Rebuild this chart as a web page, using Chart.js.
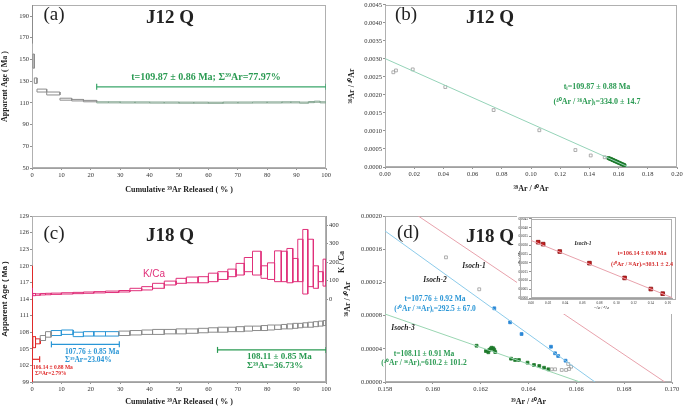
<!DOCTYPE html>
<html>
<head>
<meta charset="utf-8">
<script src="https://cdn.jsdelivr.net/npm/chart.js@4.4.1/dist/chart.umd.min.js"></script>
<style>
html, body { margin: 0; padding: 0; background: #fff; }
#wrap { position: relative; width: 685px; height: 407px; overflow: hidden; }
canvas { position: absolute; }
</style>
</head>
<body>
<div id="wrap">
  <canvas id="ca" width="340" height="200" style="left:0;top:0"></canvas>
  <canvas id="cb" width="345" height="200" style="left:340px;top:0"></canvas>
  <canvas id="cd" width="345" height="207" style="left:340px;top:200px"></canvas>
  <canvas id="cc" width="352" height="207" style="left:0;top:200px"></canvas>
  <canvas id="ci" width="160" height="100" style="left:517px;top:214px"></canvas>
</div>
<script>
// ---- (a) J12 Q age spectrum ----
const edgesA = [0, 0.3, 0.8, 1.7, 5, 9.5, 13.5, 17.5, 22, 26, 30, 35, 40, 45, 50, 55, 60, 65, 70, 75, 80, 85, 88, 91, 94, 96, 98, 100];
const ageLoA = [165, 142, 128, 120, 117.3, 112.5, 111.8, 111, 110.0, 110.0, 109.9, 109.9, 109.8, 109.8, 109.7, 109.7, 109.6, 109.8, 109.8, 109.9, 109.9, 110.0, 110.0, 109.7, 110.2, 110.6, 110.0];
const ageHiA = [240, 155, 133, 122.7, 120, 114.3, 113.2, 112.3, 111.0, 111.0, 110.9, 110.9, 110.8, 110.8, 110.7, 110.7, 110.6, 110.8, 110.8, 110.9, 110.9, 111.0, 111.0, 110.7, 111.2, 111.6, 111.0];
const plateauAX = [22, 100];
const plateauAY = 124.8;
const ageTicksA = [50, 70, 90, 110, 130, 150, 170, 190];
const pctTicks = [0, 10, 20, 30, 40, 50, 60, 70, 80, 90, 100];

// ---- (b) J12 Q inverse isochron ----
const openBX = [0.0057, 0.0075, 0.019, 0.0413, 0.0744, 0.1057, 0.1304, 0.1409, 0.1505];
const openBY = [0.00263, 0.00268, 0.00271, 0.00222, 0.00158, 0.00102, 0.00047, 0.00032, 0.00027];
const fillBX = [0.1530, 0.1536, 0.1541, 0.1547, 0.1552, 0.1557, 0.1562, 0.1567, 0.1572, 0.1577, 0.1582, 0.1587, 0.1592, 0.1597, 0.1602, 0.1608, 0.1613, 0.1619, 0.1625, 0.1631, 0.1636, 0.1641];
const fillBY = [0.000248, 0.000238, 0.000230, 0.000219, 0.000212, 0.000200, 0.000192, 0.000183, 0.000172, 0.000165, 0.000154, 0.000146, 0.000137, 0.000126, 0.000118, 0.000106, 0.000098, 0.000087, 0.000076, 0.000066, 0.000057, 0.000046];
const isoBX = [0, 0.1667];
const isoBY = [0.00301, 0];
const xTicksB = [0, 0.02, 0.04, 0.06, 0.08, 0.10, 0.12, 0.14, 0.16, 0.18, 0.20];
const yTicksB = [0, 0.0005, 0.001, 0.0015, 0.002, 0.0025, 0.003, 0.0035, 0.004, 0.0045];

// ---- (c) J18 Q age spectrum + K/Ca ----
const edgesC = [0, 0.3, 1.2, 2.8, 4.6, 6.5, 10, 14, 17.5, 21, 25, 29.5, 33.3, 37.3, 41, 45, 49, 52.5, 56.5, 60, 63.2, 66.6, 69.4, 72.2, 75, 77.9, 80.1, 82.5, 84.8, 86.7, 88.7, 90.4, 92.1, 93.8, 95.7, 97.4, 99, 100];
const ageLoC = [99, 105.2, 105.9, 106.5, 107.1, 107.4, 107.6, 107.2, 107.3, 107.3, 107.3, 107.4, 107.5, 107.6, 107.6, 107.7, 107.7, 107.8, 107.9, 108.0, 108.0, 108.1, 108.1, 108.2, 108.3, 108.3, 108.4, 108.5, 108.6, 108.6, 108.7, 108.8, 108.9, 108.9, 109.0, 109.1, 109.2];
const ageHiC = [120, 107.2, 106.8, 107.4, 108.1, 108.3, 108.4, 108.0, 108.1, 108.1, 108.1, 108.2, 108.3, 108.4, 108.5, 108.5, 108.6, 108.6, 108.7, 108.8, 108.9, 108.9, 109.0, 109.1, 109.1, 109.2, 109.3, 109.3, 109.4, 109.5, 109.6, 109.6, 109.7, 109.8, 109.9, 110.0, 110.1];
// recalculated plateau steps 20..36
const greenLoC = [107.6, 107.8, 107.8, 107.7, 107.8, 107.8, 107.8, 107.9, 107.9, 107.8, 107.6, 107.6, 107.8, 107.9, 108.0, 107.9, 107.6];
const greenHiC = [108.6, 108.5, 108.5, 108.5, 108.6, 108.6, 108.5, 108.7, 108.7, 108.6, 108.3, 108.3, 108.5, 108.7, 108.8, 108.7, 108.4];
const kcaLoC = [5, 18, 20, 22, 23, 25, 27, 29, 31, 33, 35, 38, 45, 49, 58, 76, 85, 88, 88, 94, 106, 121, 130, 148, 130, 112, 106, 94, 94, 88, 94, 94, 27, 67, 58, 94, 70];
const kcaHiC = [60, 30, 28, 30, 31, 32, 34, 36, 38, 40, 43, 46, 58, 67, 85, 97, 112, 119, 121, 140, 148, 162, 193, 225, 259, 180, 196, 261, 259, 274, 220, 324, 377, 324, 180, 148, 216];
const barRedC = [0, 2.6, 103.1];
const barBlueC = [6.6, 29.7, 105.8];
const barGreenC = [63.1, 100, 104.8];
const ageTicksC = [99, 102, 105, 108, 111, 114, 117, 120, 123, 126, 129];
const kcaTicksC = [0, 100, 200, 300, 400];

// ---- (d) J18 Q inverse isochrons ----
const openDX = [0.16055, 0.16194, 0.16497, 0.16511, 0.16539, 0.16557, 0.16570, 0.16578, 0.16566];
const openDY = [0.0001502, 0.0001117, 0.0000153, 0.0000153, 0.0000145, 0.0000145, 0.0000157, 0.0000184, 0.0000217];
const blueDX = [0.16257, 0.16323, 0.16371, 0.16494, 0.16511, 0.16524, 0.16555];
const blueDY = [0.0000888, 0.0000719, 0.0000578, 0.0000425, 0.0000346, 0.0000313, 0.0000257];
const greenDX = [0.16183, 0.16222, 0.16232, 0.16236, 0.16242, 0.16246, 0.16253, 0.16257, 0.16261, 0.16327, 0.16344, 0.16360, 0.16396, 0.16423, 0.16445, 0.16465, 0.16483];
const greenDY = [0.0000437, 0.0000373, 0.0000358, 0.0000386, 0.0000401, 0.0000413, 0.0000406, 0.0000386, 0.0000361, 0.0000281, 0.0000265, 0.0000265, 0.0000233, 0.0000205, 0.0000193, 0.0000172, 0.0000153];
const iso1X = [0.15939, 0.1697], iso1Y = [0.0002, 0];
const iso2X = [0.158, 0.16678], iso2Y = [0.000182, 0];
const iso3X = [0.158, 0.16615], iso3Y = [0.0000819, 0];
const xTicksD = [0.158, 0.160, 0.162, 0.164, 0.166, 0.168, 0.170];
const yTicksD = [0, 0.00004, 0.00008, 0.00012, 0.00016, 0.0002];

// inset (Isoch-1)
const insetX = [0.0084, 0.0142, 0.0336, 0.0683, 0.1094, 0.1400, 0.1539];
const insetY = [0.00317, 0.00306, 0.00264, 0.00198, 0.00114, 0.00051, 0.000245];
const insetLineX = [0, 0.166], insetLineY = [0.00327, 0];
const xTicksI = [0, 0.02, 0.04, 0.06, 0.08, 0.10, 0.12, 0.14, 0.16];
const yTicksI = [0, 0.0005, 0.001, 0.0015, 0.002, 0.0025, 0.003, 0.0035, 0.004, 0.0045];

const SERIF = "'Liberation Serif', 'Times New Roman', serif";
const SANS = "'Liberation Sans', Arial, sans-serif";
const GREEN = '#2a9a52', BLUE = '#2a96d6', RED = '#e02a2a', PINK = '#e0307a';

Chart.defaults.font.family = SERIF;
Chart.defaults.animation = false;

const range = (a, b) => Array.from({length: b - a + 1}, (_, k) => a + k);
const pts = (xs, ys) => xs.map((x, i) => ({x, y: ys[i]}));

// one closed rectangle per heating step, separated by gaps
function boxes(edges, lo, hi, idx, off = 0) {
    const out = [];
    idx.forEach((i, k) => {
        const x0 = edges[i], x1 = edges[i + 1], l = lo[k + off], h = hi[k + off];
        out.push({x: x0, y: l}, {x: x0, y: h}, {x: x1, y: h}, {x: x1, y: l}, {x: x0, y: l}, {x: x1, y: null});
    });
    return out;
}

function boxSet(data, color, yAxisID = 'y') {
    return {data, yAxisID, borderColor: color, borderWidth: 1, pointRadius: 0, spanGaps: false, tension: 0, fill: false};
}
function lineSet(data, color, w = 1) {
    return {data, borderColor: color, borderWidth: w, pointRadius: 0, tension: 0, fill: false};
}
function barSet(x, color) {
    return {data: [{x: x[0], y: x[2]}, {x: x[1], y: x[2]}], borderColor: color, borderWidth: 1.2,
        pointStyle: 'line', pointRotation: 90, pointRadius: 3, pointBorderColor: color, pointBorderWidth: 1.2};
}
function pointSet(data, fillCol, edge, r = 2) {
    return {data, showLine: false, pointStyle: 'rect', pointRadius: r, pointBackgroundColor: fillCol,
        pointBorderColor: edge, pointBorderWidth: 0.8};
}

function scale(pos, min, max, vals, dec, fit, title, tpad, fsize) {
    const horiz = pos === 'bottom';
    return {
        type: 'linear', position: pos, min, max,
        afterBuildTicks: s => { s.ticks = vals.map(v => ({value: v})); },
        afterFit: s => { if (horiz) s.height = fit; else s.width = fit; },
        grid: {display: true, drawOnChartArea: false, tickLength: 2, color: '#777', lineWidth: 0.8},
        border: {display: true, color: '#a0a0a0', width: 1},
        ticks: {callback: v => v.toFixed(dec), font: {family: SERIF, size: fsize || 6.5}, color: '#333',
            padding: 1, maxRotation: 0, autoSkip: false},
        title: title ? {display: true, text: title.text, font: title.font, color: '#222', padding: tpad} : {display: false}
    };
}

const notesPlugin = {
    id: 'notes',
    beforeDraw(chart, args, o) {
        if (!o.bg) return;
        const c = chart.ctx;
        c.save(); c.fillStyle = o.bg; c.fillRect(0, 0, chart.width, chart.height); c.restore();
    },
    beforeDatasetsDraw(chart, args, o) {
        const c = chart.ctx, a = chart.chartArea;
        c.save();
        c.strokeStyle = '#b0b0b0'; c.lineWidth = 1;
        c.strokeRect(Math.round(a.left) + 0.5, Math.round(a.top) + 0.5, Math.round(a.right - a.left) - 1, Math.round(a.bottom - a.top) - 1);
        if (o.outer) c.strokeRect(o.outer[0] + 0.5, o.outer[1] + 0.5, o.outer[2], o.outer[3]);
        c.restore();
    },
    afterDraw(chart, args, o) {
        const c = chart.ctx;
        (o.items || []).forEach(n => {
            c.save();
            c.font = n.font; c.fillStyle = n.color || '#222';
            c.textAlign = n.align || 'center'; c.textBaseline = 'middle';
            c.translate(n.x, n.y);
            if (n.rot) c.rotate(n.rot);
            c.fillText(n.text, 0, 0);
            c.restore();
        });
    }
};
Chart.register(notesPlugin);

function baseOptions(scales, padding, items, bg, outer) {
    return {
        responsive: false, animation: false, devicePixelRatio: 1,
        layout: {padding},
        scales,
        plugins: {legend: {display: false}, tooltip: {enabled: false}, notes: {items, bg, outer}},
        elements: {line: {borderJoinStyle: 'miter'}}
    };
}

const titleFont = {family: SERIF, size: 8, weight: 'bold'};
const bigLabel = '19px ' + SERIF;
const sampleFont = 'bold 19px ' + SERIF;

// (a)
new Chart(document.getElementById('ca'), {
    type: 'line',
    data: {datasets: [
        boxSet(boxes(edgesA, ageLoA, ageHiA, range(0, 7)), '#8c8c8c'),
        boxSet(boxes(edgesA, ageLoA, ageHiA, range(8, 26), 8), '#88a894'),
        barSet([plateauAX[0], plateauAX[1], plateauAY], '#3aa66a')
    ]},
    options: baseOptions({
        x: scale('bottom', 0, 100, pctTicks, 0, 32, {text: 'Cumulative ³⁹Ar Released ( % )', font: titleFont}, {top: 0, bottom: 5}),
        y: scale('left', 50, 200, ageTicksA, 0, 32, {text: 'Apparent Age ( Ma )', font: titleFont}, {top: 0, bottom: 0})
    }, {left: 0, top: 3, right: 14, bottom: 0}, [
        {text: '(a)', x: 54, y: 15, font: bigLabel},
        {text: 'J12 Q', x: 170, y: 18, font: sampleFont},
        {text: 't=109.87 ± 0.86 Ma; Σ³⁹Ar=77.97%', x: 206, y: 77, font: 'bold 10px ' + SERIF, color: GREEN}
    ])
});

// (b)
new Chart(document.getElementById('cb'), {
    type: 'line',
    data: {datasets: [
        lineSet(pts(isoBX, isoBY), '#95d3b8'),
        pointSet(pts(openBX, openBY), 'rgba(255,255,255,0)', '#999'),
        pointSet(pts(fillBX, fillBY), '#1e7a2c', '#1e7a2c')
    ]},
    options: baseOptions({
        x: scale('bottom', 0, 0.2, xTicksB, 2, 33, {text: '³⁹Ar / ⁴⁰Ar', font: titleFont}, {top: 0, bottom: 6}),
        y: scale('left', 0, 0.0045, yTicksB, 4, 45, {text: '³⁶Ar / ⁴⁰Ar', font: titleFont}, {top: 7, bottom: 0})
    }, {left: 0, top: 3, right: 8, bottom: 0}, [
        {text: '(b)', x: 66, y: 15, font: bigLabel},
        {text: 'J12 Q', x: 150, y: 18, font: sampleFont},
        {text: 'tᵢ=109.87 ± 0.88 Ma', x: 257, y: 87, font: 'bold 8px ' + SERIF, color: GREEN},
        {text: '(⁴⁰Ar / ³⁶Ar)ᵢ=334.0 ± 14.7', x: 257, y: 102, font: 'bold 8px ' + SERIF, color: GREEN}
    ])
});

// (c)
const scC = {
    x: scale('bottom', 0, 100, pctTicks, 0, 25, {text: 'Cumulative ³⁹Ar Released ( % )', font: titleFont}, {top: 0, bottom: 0.5}),
    y: scale('left', 99, 129, ageTicksC, 0, 32, {text: 'Apparent Age ( Ma )', font: {family: SANS, size: 8, weight: 'bold'}}, {top: 0, bottom: 0}),
    y2: scale('right', -450, 450, kcaTicksC, 0, 26, null, null)
};
new Chart(document.getElementById('cc'), {
    type: 'line',
    data: {datasets: [
        boxSet(boxes(edgesC, kcaLoC, kcaHiC, range(0, 36)), PINK, 'y2'),
        boxSet(boxes(edgesC, ageLoC, ageHiC, range(3, 4), 3), '#8c8c8c'),
        boxSet(boxes(edgesC, ageLoC, ageHiC, range(11, 36), 11), '#8c8c8c'),
        boxSet(boxes(edgesC, ageLoC, ageHiC, range(5, 10), 5), BLUE),
        boxSet(boxes(edgesC, greenLoC, greenHiC, range(20, 36), -20), GREEN),
        boxSet(boxes(edgesC, ageLoC, ageHiC, range(0, 2), 0), RED),
        barSet(barRedC, RED),
        barSet(barBlueC, BLUE),
        barSet(barGreenC, GREEN)
    ]},
    options: baseOptions(scC, {left: 0, top: 16, right: 0, bottom: 0}, [
        {text: '(c)', x: 54, y: 34, font: bigLabel},
        {text: 'J18 Q', x: 170, y: 36, font: sampleFont},
        {text: 'K/Ca', x: 154, y: 74, font: '10px ' + SANS, color: PINK},
        {text: '107.76 ± 0.85 Ma', x: 65, y: 152, font: 'bold 7.5px ' + SERIF, color: BLUE, align: 'left'},
        {text: 'Σ³⁹Ar=23.04%', x: 65, y: 160, font: 'bold 7.5px ' + SERIF, color: BLUE, align: 'left'},
        {text: '106.14 ± 0.88 Ma', x: 33, y: 168, font: 'bold 5.5px ' + SERIF, color: RED, align: 'left'},
        {text: 'Σ³⁹Ar=2.79%', x: 35, y: 173.5, font: 'bold 5.5px ' + SERIF, color: RED, align: 'left'},
        {text: '108.11 ± 0.85 Ma', x: 247, y: 157, font: 'bold 9px ' + SERIF, color: GREEN, align: 'left'},
        {text: 'Σ³⁹Ar=36.73%', x: 247, y: 165.5, font: 'bold 9px ' + SERIF, color: GREEN, align: 'left'},
        {text: 'K / Ca', x: 342, y: 62, font: 'bold 8px ' + SERIF, rot: -Math.PI / 2}
    ])
});

// (d)
new Chart(document.getElementById('cd'), {
    type: 'line',
    data: {datasets: [
        lineSet(pts(iso1X, iso1Y), '#e8a2ac'),
        lineSet(pts(iso2X, iso2Y), '#8ccbea'),
        lineSet(pts(iso3X, iso3Y), '#9ad6b2'),
        pointSet(pts(openDX, openDY), 'rgba(255,255,255,0)', '#999'),
        pointSet(pts(blueDX, blueDY), '#2a86d6', '#2a86d6'),
        pointSet(pts(greenDX, greenDY), '#1e7a2c', '#1e7a2c')
    ]},
    options: baseOptions({
        x: scale('bottom', 0.158, 0.170, xTicksD, 3, 25, {text: '³⁹Ar / ⁴⁰Ar', font: titleFont}, {top: 0, bottom: 0.5}),
        y: scale('left', 0, 0.0002, yTicksD, 5, 45, {text: '³⁶Ar / ⁴⁰Ar', font: titleFont}, {top: 3, bottom: 0})
    }, {left: 0, top: 16, right: 13, bottom: 0}, [
        {text: '(d)', x: 68, y: 33, font: bigLabel},
        {text: 'J18 Q', x: 150, y: 37, font: sampleFont},
        {text: 'Isoch-1', x: 134, y: 66, font: 'italic bold 7.5px ' + SERIF},
        {text: 'Isoch-2', x: 95, y: 80, font: 'italic bold 7.5px ' + SERIF},
        {text: 't=107.76 ± 0.92 Ma', x: 95, y: 99, font: 'bold 7.5px ' + SERIF, color: BLUE},
        {text: '(⁴⁰Ar / ³⁶Ar)ᵢ=292.5 ± 67.0', x: 95, y: 109, font: 'bold 7.5px ' + SERIF, color: BLUE},
        {text: 'Isoch-3', x: 63, y: 128, font: 'italic bold 7.5px ' + SERIF},
        {text: 't=108.11 ± 0.91 Ma', x: 84, y: 154, font: 'bold 7.5px ' + SERIF, color: GREEN},
        {text: '(⁴⁰Ar / ³⁶Ar)ᵢ=610.2 ± 101.2', x: 84, y: 163, font: 'bold 7.5px ' + SERIF, color: GREEN}
    ])
});

// inset of (d)
const tinyTitle = {family: SERIF, size: 3.5};
new Chart(document.getElementById('ci'), {
    type: 'line',
    data: {datasets: [
        lineSet(pts(insetLineX, insetLineY), '#e8a2ac'),
        pointSet(pts(insetX, insetY), '#c81e1e', '#8a1010', 2.6)
    ]},
    options: baseOptions({
        x: scale('bottom', 0, 0.165, xTicksI, 2, 16, {text: '³⁹Ar / ⁴⁰Ar', font: tinyTitle}, {top: 0, bottom: 4}, 3.5),
        y: scale('left', 0, 0.0045, yTicksI, 4, 14, {text: '³⁶Ar / ⁴⁰Ar', font: tinyTitle}, {top: 0.5, bottom: 0}, 3.5)
    }, {left: 0, top: 4, right: 3, bottom: 0}, [
        {text: 'Isoch-1', x: 66, y: 30, font: 'italic bold 5.5px ' + SERIF},
        {text: 't=106.14 ± 0.90 Ma', x: 125, y: 39, font: 'bold 6px ' + SERIF, color: '#d42a2a'},
        {text: '(⁴⁰Ar / ³⁶Ar)ᵢ=303.1 ± 2.4', x: 125, y: 50, font: 'bold 6px ' + SERIF, color: '#d42a2a'}
    ], '#ffffff', [3, 3, 155, 82])
});
</script>
</body>
</html>
